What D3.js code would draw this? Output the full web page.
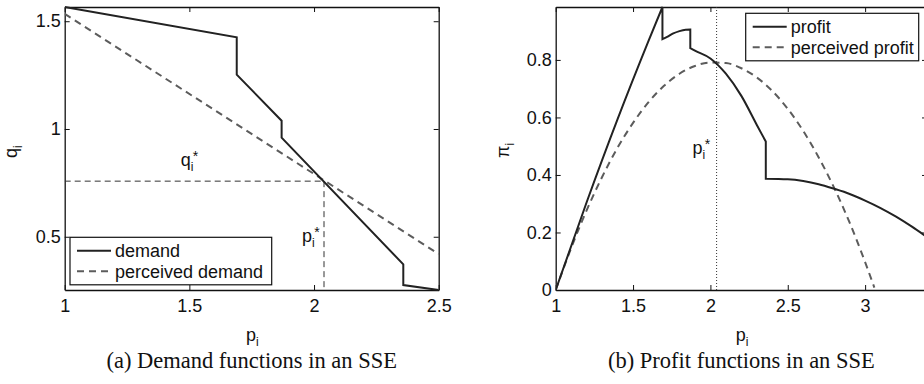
<!DOCTYPE html>
<html>
<head>
<meta charset="utf-8">
<script src="https://cdn.jsdelivr.net/npm/d3@7"></script>
<style>
  body { margin: 0; background: #fff; }
  svg { display: block; overflow: hidden; }
  text { font-family: "Liberation Sans", Arial, Helvetica, sans-serif; fill: #111; }
  .caption { font-family: "Liberation Serif", "Times New Roman", serif; }
</style>
</head>
<body>
<div id="chart"></div>
<script>
// (a) demand
var demandP = [1, 1.69, 1.69, 1.87, 1.87, 2.358, 2.358, 2.5];
var demandQ = [1.566, 1.4255, 1.252, 1.0385, 0.960, 0.372, 0.276, 0.253];
var perceivedDemandP = [1, 2.5];
var perceivedDemandQ = [1.534, 0.420];
var pStar = 2.04;
var qStar = 0.758;

// (b) profit
var profitP = [1, 1.2, 1.4, 1.6, 1.69, 1.69, 1.72, 1.76, 1.80, 1.84, 1.87, 1.87, 1.9, 2.0, 2.1, 2.2, 2.3, 2.358, 2.358,
               2.5, 2.6, 2.7, 2.8, 2.9, 3.0, 3.1, 3.2, 3.3, 3.4];
var profitV = [0, 0.305, 0.594, 0.866, 0.984, 0.872, 0.880, 0.892, 0.900, 0.905, 0.906, 0.841, 0.832, 0.805, 0.752, 0.675, 0.574, 0.516, 0.387,
               0.385, 0.379, 0.368, 0.352, 0.334, 0.311, 0.285, 0.255, 0.221, 0.184];
var perceivedProfitP = [1, 1.1, 1.2, 1.3, 1.4, 1.5, 1.6, 1.7, 1.8, 1.9, 2.0, 2.1, 2.2, 2.3, 2.4, 2.5, 2.6, 2.7, 2.8, 2.9, 3.0, 3.06];
var perceivedProfitV = [0, 0.146, 0.277, 0.393, 0.495, 0.581, 0.653, 0.710, 0.752, 0.779, 0.791, 0.789, 0.771, 0.739, 0.692, 0.630, 0.553, 0.461, 0.355, 0.234, 0.097, 0.008];

var ticksXa = [1, 1.5, 2, 2.5];
var ticksYa = [0.5, 1, 1.5];
var ticksXb = [1, 1.5, 2, 2.5, 3];
var ticksYb = [0, 0.2, 0.4, 0.6, 0.8];

var W = 924, H = 384;
var solid = '#222', dashed = '#5c5c5c';

var svg = d3.select('#chart').append('svg')
    .attr('width', W)
    .attr('height', H);

function zip(xs, ys) {
    return xs.map(function(x, i) { return [x, ys[i]]; });
}

// label like p_i^*
function symLabel(g, x, y, base, sub, sup) {
    var t = g.append('text')
        .attr('x', x)
        .attr('y', y)
        .attr('font-size', 18);
    t.append('tspan').text(base);
    t.append('tspan').attr('dy', 5).attr('font-size', 12).text(sub);
    if (sup) {
        t.append('tspan').attr('dx', -0.5).attr('dy', -10).attr('font-size', 14).text(sup);
    }
    return t;
}

function drawFrame(g, x, y, xt, yt, id) {
    var x0 = x.range()[0], x1 = x.range()[1];
    var y0 = y.range()[1], y1 = y.range()[0];
    var fmt = function(d) { return String(d); };

    g.append('clipPath').attr('id', id)
        .append('rect').attr('x', x0).attr('y', y0 - 1).attr('width', x1 - x0).attr('height', y1 - y0 + 2);

    g.append('g').attr('transform', 'translate(0,' + y1 + ')')
        .call(d3.axisBottom(x).tickValues(xt).tickFormat(fmt).tickSizeInner(-5).tickSizeOuter(0).tickPadding(9));
    g.append('g').attr('transform', 'translate(0,' + y0 + ')')
        .call(d3.axisTop(x).tickValues(xt).tickFormat('').tickSizeInner(-5).tickSizeOuter(0));
    g.append('g').attr('transform', 'translate(' + x0 + ',0)')
        .call(d3.axisLeft(y).tickValues(yt).tickFormat(fmt).tickSizeInner(-5).tickSizeOuter(0).tickPadding(4));
    g.append('g').attr('transform', 'translate(' + x1 + ',0)')
        .call(d3.axisRight(y).tickValues(yt).tickFormat('').tickSizeInner(-5).tickSizeOuter(0));

    g.selectAll('.domain').attr('stroke', '#111').attr('stroke-width', 1.3);
    g.selectAll('.tick line').attr('stroke', '#111');
    g.selectAll('.tick text')
        .attr('font-size', 18)
        .attr('font-family', '"Liberation Sans", Arial, sans-serif')
        .attr('fill', '#111');
}

function legend(g, x, y, w, items) {
    g.append('rect')
        .attr('x', x).attr('y', y)
        .attr('width', w).attr('height', 47.5)
        .attr('fill', '#fff')
        .attr('stroke', '#111')
        .attr('stroke-width', 1.2);
    items.forEach(function(it, i) {
        var cy = y + 13.5 + i * 20.5;
        g.append('line')
            .attr('x1', x + 7).attr('x2', x + 41)
            .attr('y1', cy).attr('y2', cy)
            .attr('stroke', it.color)
            .attr('stroke-width', 2)
            .attr('stroke-dasharray', it.dash || null);
        g.append('text')
            .attr('x', x + 45)
            .attr('y', cy + 6.3)
            .attr('font-size', 18)
            .text(it.label);
    });
}

// ---------- (a) Demand ----------
function createDemand() {
    var g = svg.append('g');
    var x = d3.scaleLinear().domain([1, 2.5]).range([64.7, 438.7]);
    var y = d3.scaleLinear().domain([d3.min(demandQ), d3.max(demandQ)]).range([290, 7]);

    drawFrame(g, x, y, ticksXa, ticksYa, 'clipA');

    var line = d3.line()
        .x(function(d) { return x(d[0]); })
        .y(function(d) { return y(d[1]); });

    var plot = g.append('g').attr('clip-path', 'url(#clipA)');

    // guide lines to the equilibrium
    plot.append('line')
        .attr('x1', x(1)).attr('x2', x(pStar))
        .attr('y1', y(qStar)).attr('y2', y(qStar))
        .attr('stroke', '#333').attr('stroke-width', 1).attr('stroke-dasharray', '6,4');
    plot.append('line')
        .attr('x1', x(pStar)).attr('x2', x(pStar))
        .attr('y1', y(qStar)).attr('y2', y.range()[0])
        .attr('stroke', '#333').attr('stroke-width', 1).attr('stroke-dasharray', '6,4');

    plot.append('path')
        .attr('d', line(zip(perceivedDemandP, perceivedDemandQ)))
        .attr('fill', 'none')
        .attr('stroke', dashed)
        .attr('stroke-width', 2)
        .attr('stroke-dasharray', '7,5');

    plot.append('path')
        .attr('d', line(zip(demandP, demandQ)))
        .attr('fill', 'none')
        .attr('stroke', solid)
        .attr('stroke-width', 2);

    symLabel(g, x(1.465), y(qStar) - 15, 'q', 'i', '*');
    symLabel(g, x(pStar) - 22, 241.5, 'p', 'i', '*');

    legend(g, 70, 237.3, 201.7, [
        {label: 'demand', color: solid},
        {label: 'perceived demand', color: dashed, dash: '7,5'}
    ]);

    // axis titles
    symLabel(g, 246, 341, 'p', 'i');
    var yl = g.append('text')
        .attr('transform', 'translate(17,158) rotate(-90)')
        .attr('font-size', 18);
    yl.append('tspan').text('q');
    yl.append('tspan').attr('dy', 5).attr('font-size', 12).text('i');

    g.append('text')
        .attr('class', 'caption')
        .attr('x', (x.range()[0] + x.range()[1]) / 2)
        .attr('y', 368)
        .attr('text-anchor', 'middle')
        .attr('font-size', 22.5)
        .text('(a) Demand functions in an SSE');
}

// ---------- (b) Profit ----------
function createProfit() {
    var g = svg.append('g');
    var x = d3.scaleLinear().domain([1, d3.max(profitP)]).range([555.7, 927]);
    var y = d3.scaleLinear().domain([0, d3.max(profitV)]).range([290, 7]);

    drawFrame(g, x, y, ticksXb, ticksYb, 'clipB');

    var smooth = d3.line()
        .x(function(d) { return x(d[0]); })
        .y(function(d) { return y(d[1]); })
        .curve(d3.curveMonotoneX);

    var plot = g.append('g').attr('clip-path', 'url(#clipB)');

    plot.append('line')
        .attr('x1', x(pStar)).attr('x2', x(pStar))
        .attr('y1', y.range()[1]).attr('y2', y.range()[0])
        .attr('stroke', '#333').attr('stroke-width', 1).attr('stroke-dasharray', '1,2');

    plot.append('path')
        .attr('d', smooth(zip(perceivedProfitP, perceivedProfitV)))
        .attr('fill', 'none')
        .attr('stroke', dashed)
        .attr('stroke-width', 2)
        .attr('stroke-dasharray', '7,5');

    // split the profit curve at its jumps, join the pieces with straight drops
    var pts = zip(profitP, profitV);
    var runs = [[pts[0]]];
    for (var i = 1; i < pts.length; i++) {
        if (pts[i][0] === pts[i - 1][0]) runs.push([]);
        runs[runs.length - 1].push(pts[i]);
    }
    var d = runs.map(function(r, i) {
        var s = smooth(r);
        return i === 0 ? s : 'L' + s.slice(1);
    }).join('');
    plot.append('path')
        .attr('d', d)
        .attr('fill', 'none')
        .attr('stroke', solid)
        .attr('stroke-width', 2);

    symLabel(g, x(pStar) - 24, 154, 'p', 'i', '*');

    legend(g, 745.7, 13.3, 173, [
        {label: 'profit', color: solid},
        {label: 'perceived profit', color: dashed, dash: '7,5'}
    ]);

    var cx = (x.range()[0] + x.range()[1]) / 2;
    symLabel(g, cx - 5.5, 341, 'p', 'i');
    var yl = g.append('text')
        .attr('transform', 'translate(509,158) rotate(-90)')
        .attr('font-size', 18);
    yl.append('tspan').text('π');
    yl.append('tspan').attr('dy', 5).attr('font-size', 12).text('i');

    g.append('text')
        .attr('class', 'caption')
        .attr('x', cx)
        .attr('y', 368)
        .attr('text-anchor', 'middle')
        .attr('font-size', 22.5)
        .text('(b) Profit functions in an SSE');
}

createDemand();
createProfit();
</script>
</body>
</html>
